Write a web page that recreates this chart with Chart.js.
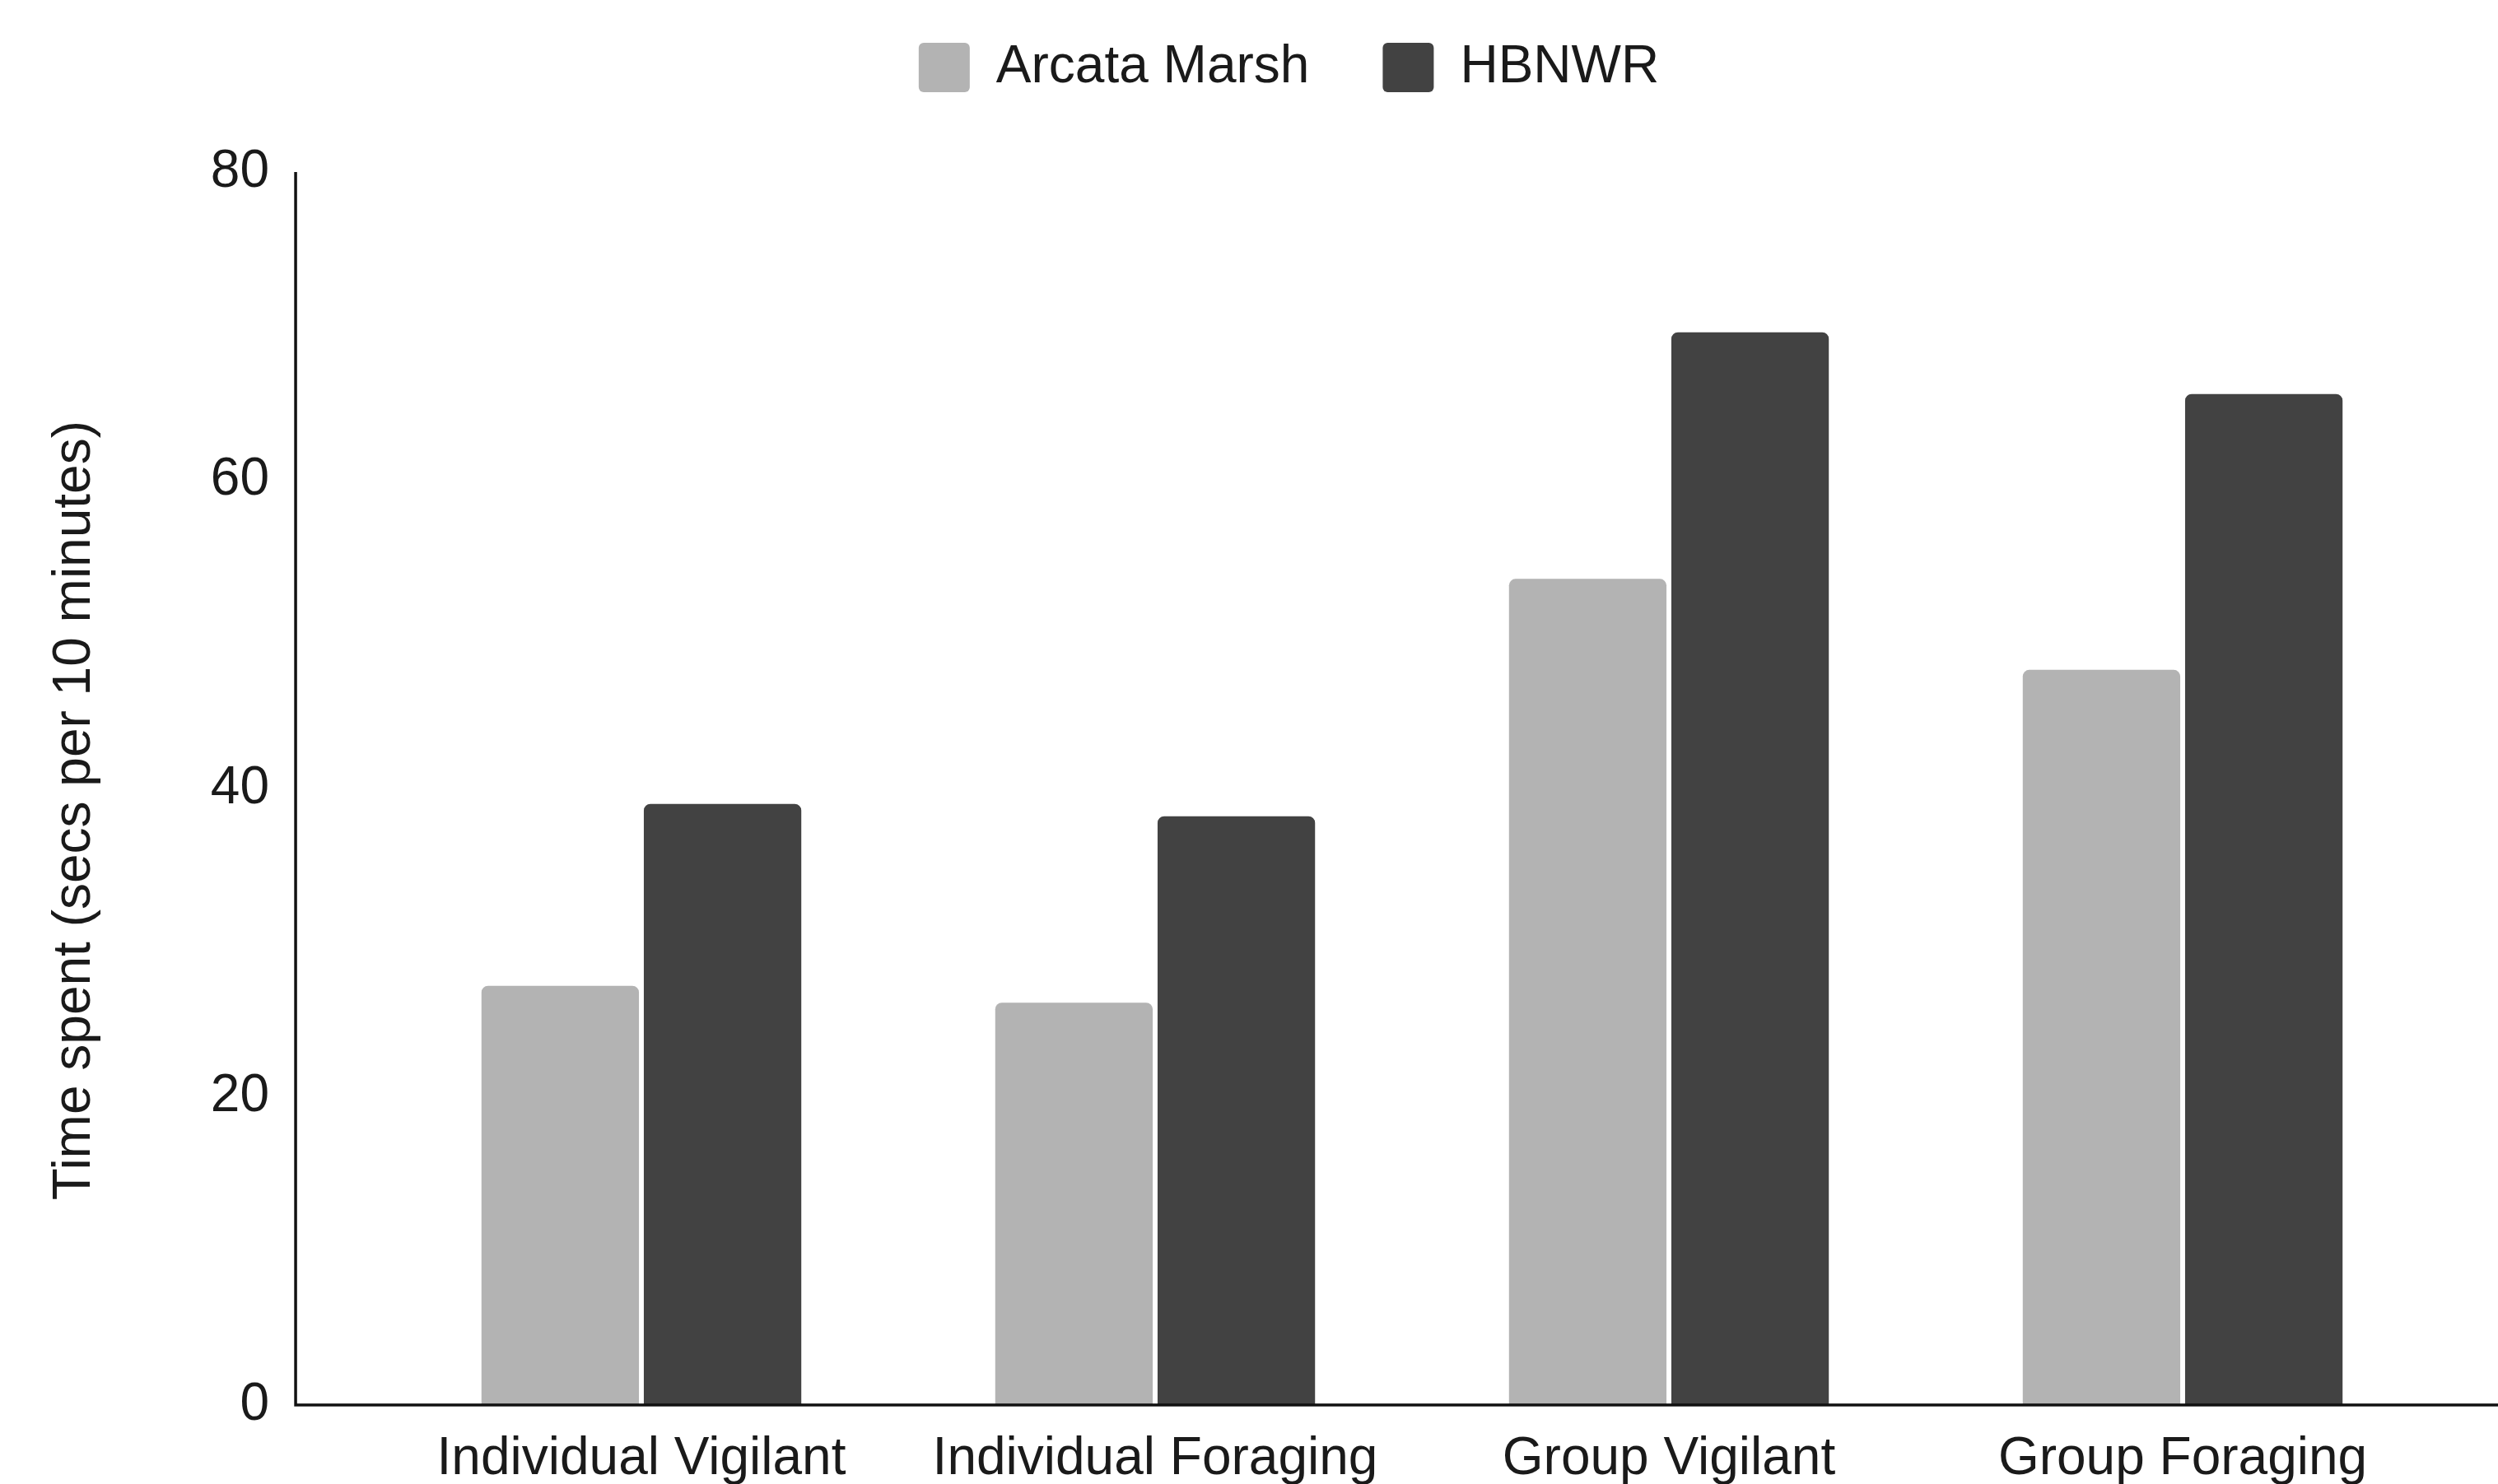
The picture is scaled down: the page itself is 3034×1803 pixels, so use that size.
<!DOCTYPE html>
<html lang="en">
<head>
    <meta charset="UTF-8">
    <title>Time spent</title>
    <script src="https://cdn.jsdelivr.net/npm/chart.js"></script>
    <style>
        html, body { margin: 0; padding: 0; background: #fff; overflow: hidden; }
        canvas { display: block; }
    </style>
</head>
<body>
    <canvas id="myChart" width="3034" height="1803" style="width:3034px;height:1803px"></canvas>
    <script>
        // Données
        const categories = ['Individual Vigilant', 'Individual Foraging', 'Group Vigilant', 'Group Foraging'];
        const arcataMarsh = [27.2, 26.1, 53.6, 47.7];
        const hbnwr = [39.0, 38.2, 69.6, 65.6];
        const yTicks = [0, 20, 40, 60, 80];

        const police = "'Liberation Sans', Arial, sans-serif";
        const taille = 64;

        // Légende + axes dessinés à la main (ils dépassent la zone des barres)
        const axesPlugin = {
            id: 'axesLines',
            beforeLayout(chart) {
                const lg = chart.legend;
                if (lg && !lg._fitFixe) {
                    const fitOrig = lg.fit;
                    lg.fit = function () {
                        fitOrig.call(this);
                        this.height = 209; // haut de la zone du graphique
                    };
                    lg._fitFixe = true;
                }
            },
            afterLayout(chart) {
                // décaler la légende comme sur l'original
                chart.legend.left += 84;
                chart.legend.right += 84;
                chart.legend.top -= 39;
                chart.legend.bottom -= 39;
            },
            afterDatasetsDraw(chart) {
                const { ctx, chartArea, scales } = chart;
                const cat = chartArea.width / categories.length;
                const x0 = chartArea.left - cat * 0.173;
                const yTop = scales.y.getPixelForValue(80);
                const yBas = scales.y.getPixelForValue(0);
                ctx.save();
                ctx.strokeStyle = '#111';
                ctx.lineWidth = 3.5;
                ctx.beginPath();
                ctx.moveTo(x0, yTop);
                ctx.lineTo(x0, yBas);
                ctx.lineTo(chart.width, yBas);
                ctx.stroke();
                ctx.restore();
            }
        };

        const data = {
            labels: categories,
            datasets: [{
                label: 'Arcata Marsh',
                backgroundColor: '#b3b3b3',
                borderRadius: 8,
                borderSkipped: 'start',
                data: arcataMarsh,
            }, {
                label: 'HBNWR',
                backgroundColor: '#424242',
                borderRadius: 8,
                borderSkipped: 'start',
                data: hbnwr,
            }]
        };

        const config = {
            type: 'bar',
            data: data,
            plugins: [axesPlugin],
            options: {
                responsive: false,
                devicePixelRatio: 1,
                animation: false,
                datasets: {
                    bar: {
                        categoryPercentage: 0.632,
                        barPercentage: 0.97
                    }
                },
                layout: {
                    padding: { top: 0, right: 71, bottom: 0, left: 0 }
                },
                plugins: {
                    tooltip: { enabled: false },
                    legend: {
                        position: 'top',
                        labels: {
                            font: { family: police, size: taille },
                            color: '#1a1a1a',
                            boxWidth: 62,
                            boxHeight: 60,
                            useBorderRadius: true,
                            borderRadius: 6,
                            padding: 89
                        }
                    }
                },
                scales: {
                    x: {
                        grid: { display: false, drawTicks: false },
                        border: { display: false },
                        afterFit(scale) { scale.height = 96; },
                        ticks: {
                            font: { family: police, size: taille, lineHeight: 1.1 },
                            color: '#1a1a1a',
                            padding: 31,
                            maxRotation: 0,
                            autoSkip: false
                        }
                    },
                    y: {
                        min: 0,
                        max: 80,
                        grid: { display: false, drawTicks: false },
                        border: { display: false },
                        afterFit(scale) {
                            scale.width = 467;
                            // la marge des étiquettes ne doit pas réduire la zone
                            scale.paddingTop = 38;
                            scale.paddingBottom = 38;
                        },
                        afterBuildTicks(axis) {
                            axis.ticks = yTicks.map(v => ({ value: v }));
                        },
                        ticks: {
                            font: { family: police, size: taille },
                            color: '#1a1a1a',
                            padding: 140
                        },
                        title: {
                            display: true,
                            // espaces en fin : titre un peu plus bas, comme l'original
                            text: 'Time spent (secs per 10 minutes)   ',
                            font: { family: police, size: taille },
                            color: '#1a1a1a',
                            padding: { top: 53, bottom: 0 }
                        }
                    }
                }
            }
        };

        new Chart(document.getElementById('myChart').getContext('2d'), config);
    </script>
</body>
</html>
